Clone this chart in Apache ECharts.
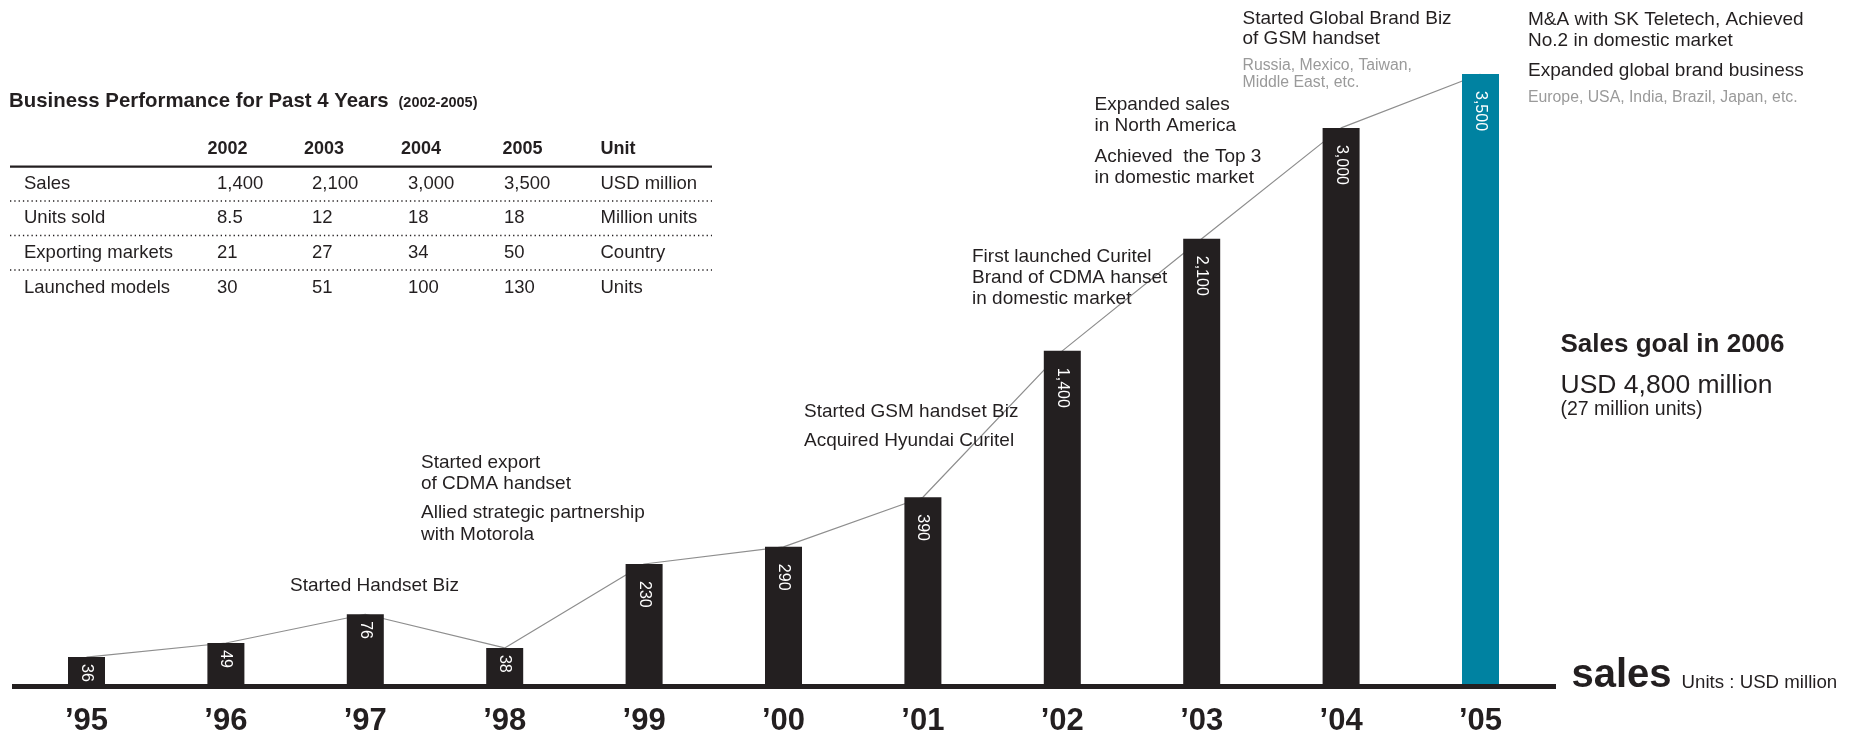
<!DOCTYPE html>
<html><head><meta charset="utf-8">
<script src="https://cdn.jsdelivr.net/npm/echarts@6/dist/echarts.min.js"></script>
<style>html,body{margin:0;padding:0;background:#fff}#c{width:1859px;height:732px}</style>
</head><body><div id="c"></div>
<script>
// ---------- DATA ----------
const years = ["’95","’96","’97","’98","’99","’00","’01","’02","’03","’04","’05"];
const salesUSDm = [36, 49, 76, 38, 230, 290, 390, 1400, 2100, 3000, 3500];
// The infographic is not drawn to a linear scale: bar heights,
// as a percentage of the tallest ('05) bar.
const barHeightPct = [4.8, 7.1, 11.8, 6.3, 20.0, 22.8, 30.9, 54.8, 73.1, 91.2, 100];

const tableTitle = "Business Performance for Past 4 Years";
const tableSubtitle = "(2002-2005)";
const tableYears = ["2002", "2003", "2004", "2005"];
const tableUnitHeader = "Unit";
const rowLabels = ["Sales", "Units sold", "Exporting markets", "Launched models"];
const rowSales = ["1,400", "2,100", "3,000", "3,500"];
const rowUnitsSold = ["8.5", "12", "18", "18"];
const rowExporting = ["21", "27", "34", "50"];
const rowModels = ["30", "51", "100", "130"];
const rowUnits = ["USD million", "Million units", "Country", "Units"];

const note95 = ["Started Handset Biz"];
const note99a = ["Started export", "of CDMA handset"];
const note99b = ["Allied strategic partnership", "with Motorola"];
const note01a = ["Started GSM handset Biz"];
const note01b = ["Acquired Hyundai Curitel"];
const note02 = ["First launched Curitel", "Brand of CDMA hanset", "in domestic market"];
const note03a = ["Expanded sales", "in North America"];
const note03b = ["Achieved  the Top 3", "in domestic market"];
const note04a = ["Started Global Brand Biz", "of GSM handset"];
const note04b = ["Russia, Mexico, Taiwan,", "Middle East, etc."];
const note05a = ["M&A with SK Teletech, Achieved", "No.2 in domestic market"];
const note05b = ["Expanded global brand business"];
const note05c = ["Europe, USA, India, Brazil, Japan, etc."];

const goalTitle = "Sales goal in 2006";
const goalValue = "USD 4,800 million";
const goalUnits = "(27 million units)";
const axisName = "sales";
const axisUnit = "Units : USD million";

// ---------- STYLE / LAYOUT ----------
const INK = "#231f20", TEAL = "#0082a1", GREY = "#9a9a9a", LINE = "#8e8e8e";
const FONT = "'Liberation Sans', Arial, Helvetica, sans-serif";
const graphics = [];

function txt(lines, x, baseline, fs, lh, opts) {
  opts = opts || {};
  lines.forEach((s, i) => {
    graphics.push({
      type: 'text', z: 50, silent: true,
      style: {
        text: s, x: x, y: baseline + i * lh - 0.28 * fs,
        fill: opts.color || INK,
        font: (opts.weight || 'normal') + ' ' + fs + 'px ' + FONT,
        align: opts.align || 'left', textAlign: opts.align || 'left',
        verticalAlign: 'middle', textVerticalAlign: 'middle'
      }
    });
  });
}

// table
txt([tableTitle], 9, 107, 20.4, 0, {weight: 'bold'});
txt([tableSubtitle], 398.5, 107, 14.5, 0, {weight: 'bold'});
const colX = [217, 312, 408, 504];
const hdrX = [207.5, 304, 401, 502.5];
tableYears.forEach((y, i) => txt([y], hdrX[i], 154, 18, 0, {weight: 'bold'}));
txt([tableUnitHeader], 600.5, 154, 18, 0, {weight: 'bold'});
graphics.push({type: 'rect', z: 50, silent: true, shape: {x: 10, y: 165.5, width: 702, height: 2.2}, style: {fill: INK}});
const rowBase = [189, 223.5, 258, 293];
const rows = [rowSales, rowUnitsSold, rowExporting, rowModels];
rowLabels.forEach((lab, r) => {
  txt([lab], 24, rowBase[r], 18.5, 0);
  rows[r].forEach((v, c) => txt([v], colX[c], rowBase[r], 18.5, 0));
  txt([rowUnits[r]], 600.5, rowBase[r], 18.5, 0);
});
[201, 235.5, 270].forEach(y => graphics.push({
  type: 'line', z: 50, silent: true,
  shape: {x1: 10, y1: y, x2: 712, y2: y},
  style: {stroke: INK, lineWidth: 1.3, lineDash: [1.3, 3]}
}));

// annotations
const FS = 19, LH = 21.3;
txt(note95, 290, 590.7, FS, LH);
txt(note99a, 421, 467.7, FS, LH);
txt(note99b, 421, 518.3, FS, LH);
txt(note01a, 804, 416.7, FS, LH);
txt(note01b, 804, 446.5, FS, LH);
txt(note02, 972, 261.7, FS, LH);
txt(note03a, 1094.5, 110, FS, LH);
txt(note03b, 1094.5, 161.7, FS, LH);
txt(note04a, 1242.5, 24.5, FS, 20);
txt(note04b, 1242.5, 70.5, 15.8, 17, {color: GREY});
txt(note05a, 1528, 25.5, FS, 20.7);
txt(note05b, 1528, 76, FS, LH);
txt(note05c, 1528, 102, 15.8, 17, {color: GREY});

// goal
txt([goalTitle], 1560.5, 352.3, 26, 0, {weight: 'bold'});
txt([goalValue], 1560.5, 392.7, 26.5, 0);
txt([goalUnits], 1560.5, 415, 19.5, 0);

// axis name
txt([axisName], 1571.5, 687.5, 40, 0, {weight: 'bold'});
txt([axisUnit], 1681.5, 688.5, 18.7, 0);

// baseline bar
graphics.push({type: 'rect', z: 40, silent: true, shape: {x: 12, y: 684, width: 1544, height: 5}, style: {fill: INK}});

// ---------- CHART ----------
const chart = echarts.init(document.getElementById('c'), null, {renderer: 'canvas'});
const barData = barHeightPct.map((v, i) => ({
  value: v,
  itemStyle: {color: i === years.length - 1 ? TEAL : INK},
  label: {distance: i < 4 ? 7 : 17}
}));
chart.setOption({
  animation: false,
  backgroundColor: '#fff',
  grid: {left: 16.8, right: 308.8, top: 74, bottom: 45.5, containLabel: false, outerBoundsMode: 'none'},
  xAxis: {
    type: 'category', data: years, boundaryGap: true,
    axisLine: {show: false}, axisTick: {show: false}, splitLine: {show: false},
    axisLabel: {
      color: INK, fontSize: 31, fontWeight: 'bold', fontFamily: FONT, margin: 19,
      interval: 0
    }
  },
  yAxis: {type: 'value', min: 0, max: 100, show: false, splitLine: {show: false}},
  series: [
    {
      type: 'line', data: barHeightPct, symbol: 'none', z: 1,
      lineStyle: {color: LINE, width: 1.2}, silent: true
    },
    {
      type: 'bar', data: barData, barWidth: 37, z: 2, silent: true,
      label: {
        show: true, position: 'insideTop', rotate: -90,
        align: 'left', verticalAlign: 'middle',
        color: '#fff', fontSize: 16, fontFamily: FONT,
        formatter: p => salesUSDm[p.dataIndex].toLocaleString('en-US')
      }
    }
  ],
  graphic: {elements: graphics}
});
</script>
</body></html>
